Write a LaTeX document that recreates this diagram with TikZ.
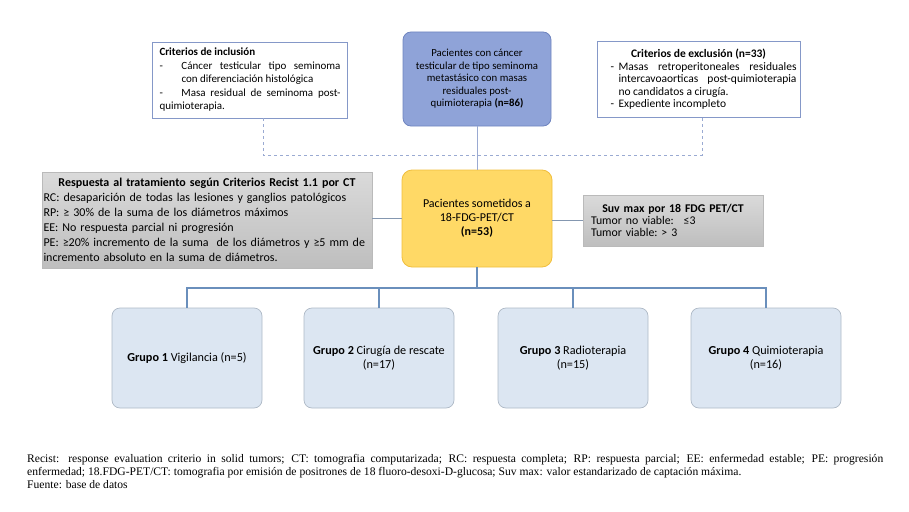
\documentclass[tikz,border=0pt]{standalone}
\usepackage{fontspec}
\setmainfont{Carlito}
\newfontfamily\notefont{Liberation Serif}
\usetikzlibrary{calc}
\definecolor{topfill}{HTML}{8FA3D8}
\definecolor{topline}{HTML}{6F84BF}
\definecolor{critline}{HTML}{8598C8}
\definecolor{dashline}{HTML}{9AAAD2}
\definecolor{petfill}{HTML}{FFD966}
\definecolor{petline}{HTML}{F0BE3C}
\definecolor{graytop}{HTML}{DADADA}
\definecolor{graybot}{HTML}{BEBEBE}
\definecolor{grayline}{HTML}{BABABA}
\definecolor{grpfill}{HTML}{DCE6F2}
\definecolor{grpline}{HTML}{AEB9C6}
\definecolor{splitline}{HTML}{6A8FBC}
\definecolor{sideline}{HTML}{8497B0}
\newcommand{\critem}[3]{\par\noindent\hangindent=#2\hangafter=1\hbox to #2{\hspace*{#1}-\hfil}#3}
\newcommand{\midline}[1]{\hfill#1\hfill\null}

\begin{document}
\begin{tikzpicture}[x=1pt,y=-1pt,
    critbox/.style={draw=critline,line width=0.8pt,fill=white,
      text width=#1,minimum height=76pt,align=justify},
    graybox/.style={draw=grayline,line width=0.6pt,top color=graytop,bottom color=graybot,
      align=left},
    grpbox/.style={draw=grpline,line width=0.7pt,fill=grpfill,rounded corners=8pt,
      minimum width=150pt,minimum height=100pt,align=center,
      font=\fontsize{12.2}{14.5}\selectfont}]
  \useasboundingbox (0,0) rectangle (909,511);

  \node[critbox=181pt,inner xsep=7pt,font=\fontsize{11}{13.5}\selectfont](inc)at(250,80){%
    \textbf{Criterios de inclusión}
    \critem{0pt}{22pt}{Cáncer testicular tipo seminoma\linebreak con diferenciación histológica}
    \critem{0pt}{22pt}{Masa residual de seminoma post-\linebreak quimioterapia.}};
  \node[draw=topline,line width=0.8pt,fill=topfill,rounded corners=8pt,minimum width=148pt,
    minimum height=94pt,align=center,font=\fontsize{10.8}{12.5}\selectfont](top)at(477,79){%
    Pacientes con cáncer\\testicular de tipo seminoma\\metastásico con masas\\residuales post-\\
    quimioterapia \textbf{(n=86)}};
  \node[critbox=196pt,inner xsep=3.5pt,font=\fontsize{11.5}{12.5}\selectfont](exc)at(698.5,79.5){%
    \midline{\textbf{Criterios de exclusión (n=33)}}
    \critem{10pt}{18pt}{Masas retroperitoneales residuales\linebreak intercavoaorticas post-quimioterapia\linebreak no candidatos a cirugía.}
    \critem{10pt}{18pt}{Expediente incompleto}};

  \node[draw=petline,line width=0.8pt,fill=petfill,rounded corners=10pt,minimum width=150pt,
    minimum height=97pt,align=center,font=\fontsize{12}{14}\selectfont](pet)at(477,218.5){%
    Pacientes sometidos a\\18-FDG-PET/CT\\\textbf{(n=53)}};
  \node[graybox,text width=327pt,inner xsep=1.5pt,minimum height=96pt,
    font=\fontsize{12}{15}\selectfont](rec)at(207,220){%
    \midline{\textbf{Respuesta al tratamiento según Criterios Recist 1.1 por CT}}\\
    RC: desaparición de todas las lesiones y ganglios patológicos\\
    RP: ≥ 30\% de la suma de los diámetros máximos\\
    EE: No respuesta parcial ni progresión\\
    PE: ≥20\% incremento de la suma \ de los diámetros y ≥5 mm de\\
    incremento absoluto en la suma de diámetros.};
  \node[graybox,text width=164pt,inner xsep=8pt,minimum height=51pt,
    font=\fontsize{11.8}{12}\selectfont](suv)at(673,220.5){%
    \midline{\textbf{Suv max por 18 FDG PET/CT}}\\
    Tumor no viable:~ ≤3\\
    Tumor viable:~> 3};

  \node[grpbox](g1)at(187,358){\textbf{Grupo 1} Vigilancia (n=5)};
  \node[grpbox](g2)at(379,358){\textbf{Grupo 2} Cirugía de rescate\\(n=17)};
  \node[grpbox](g3)at(573,358){\textbf{Grupo 3} Radioterapia\\(n=15)};
  \node[grpbox](g4)at(766,358){\textbf{Grupo 4} Quimioterapia\\(n=16)};

  \coordinate(dl)at(263,155);
  \coordinate(dr)at(702,155);
  \coordinate(split)at(477,288);
  \draw[dashline,dashed,line width=0.7pt](inc.south -| dl)|-(dr)--(exc.south -| dr);
  \draw[dashline,line width=0.7pt](top)--(pet);
  \draw[sideline,line width=0.7pt](rec.east |- pet.west)--(pet.west);
  \draw[sideline,line width=0.7pt](pet.east |- suv.west)--(suv.west);
  \draw[splitline,line width=1.2pt](pet.south)--(split);
  \draw[splitline,line width=1.2pt](g1.north)|-(g4.north |- split)--(g4.north);
  \draw[splitline,line width=1.2pt](g2.north)--(g2.north |- split);
  \draw[splitline,line width=1.2pt](g3.north)--(g3.north |- split);

  \node[anchor=north west,inner sep=0pt,text width=856pt,align=justify,
    font=\notefont\fontsize{11.6}{13}\selectfont](note)at(27,454){%
    Recist: response evaluation criterio in solid tumors; CT: tomografia computarizada; RC: respuesta completa; RP: respuesta parcial; EE: enfermedad estable; PE: progresión\linebreak
    enfermedad; 18.FDG-PET/CT: tomografia por emisión de positrones de 18 fluoro-desoxi-D-glucosa; Suv max: valor estandarizado de captación máxima.\par
    Fuente: base de datos};
\end{tikzpicture}
\end{document}
